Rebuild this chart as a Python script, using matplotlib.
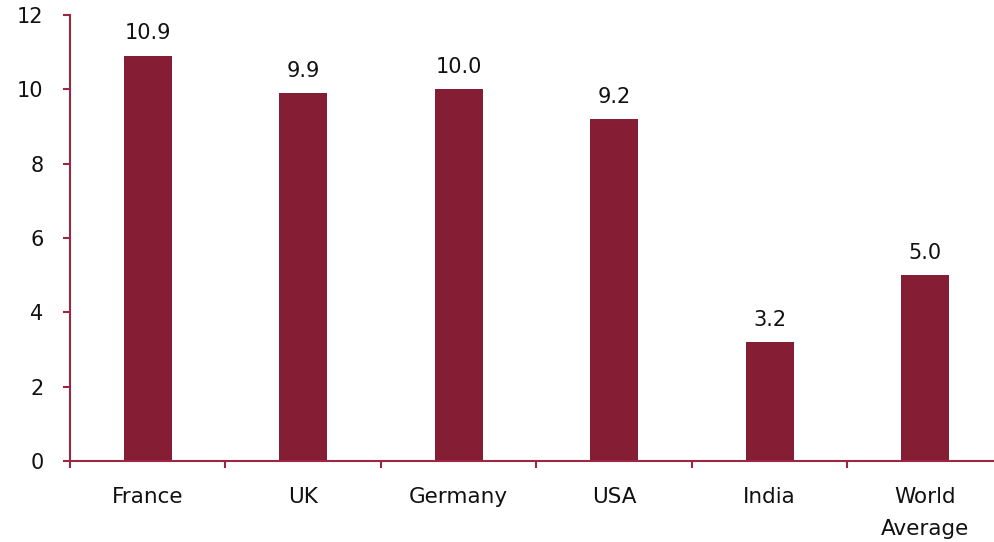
import matplotlib
matplotlib.use("Agg")
import matplotlib.pyplot as plt
import numpy as np

categories = ["France", "UK", "Germany", "USA", "India", "World\nAverage"]
values = [10.9, 9.9, 10.0, 9.2, 3.2, 5.0]
y_ticks = [0, 2, 4, 6, 8, 10, 12]

bar_color = "#851E35"
axis_color = "#9B2743"

plt.rcParams["font.family"] = ["DejaVu Sans"]

fig = plt.figure(figsize=(9.95, 5.42), dpi=100)
ax = fig.add_axes([70/995, 81/542, 933/995, 446/542])

x = np.arange(len(categories))
ax.bar(x, values, width=0.31, color=bar_color, zorder=2)

for xi, v in zip(x, values):
    ax.annotate(f"{v:.1f}", (xi, v), xytext=(0, 9), textcoords="offset points",
                ha="center", va="bottom", fontsize=15, color="#111111")

ax.set_xlim(-0.5, len(categories) - 0.5)
ax.set_ylim(0, 12)
ax.set_yticks(y_ticks)
ax.set_yticklabels([str(t) for t in y_ticks], fontsize=15, color="#111111")
ax.set_xticks(x)
ax.set_xticklabels(categories, fontsize=15.5, color="#111111", linespacing=1.7)
ax.set_xticks(np.arange(len(categories) + 1) - 0.5, minor=True)

ax.tick_params(axis="x", which="major", length=0, pad=19)
ax.tick_params(axis="x", which="minor", length=5, width=1.5, color=axis_color, direction="out")
ax.tick_params(axis="y", which="major", length=5, width=1.5, color=axis_color, direction="out", pad=14)

for s in ["top", "right"]:
    ax.spines[s].set_visible(False)
for s in ["left", "bottom"]:
    ax.spines[s].set_color(axis_color)
    ax.spines[s].set_linewidth(1.5)

fig.savefig("out.png", dpi=100)
